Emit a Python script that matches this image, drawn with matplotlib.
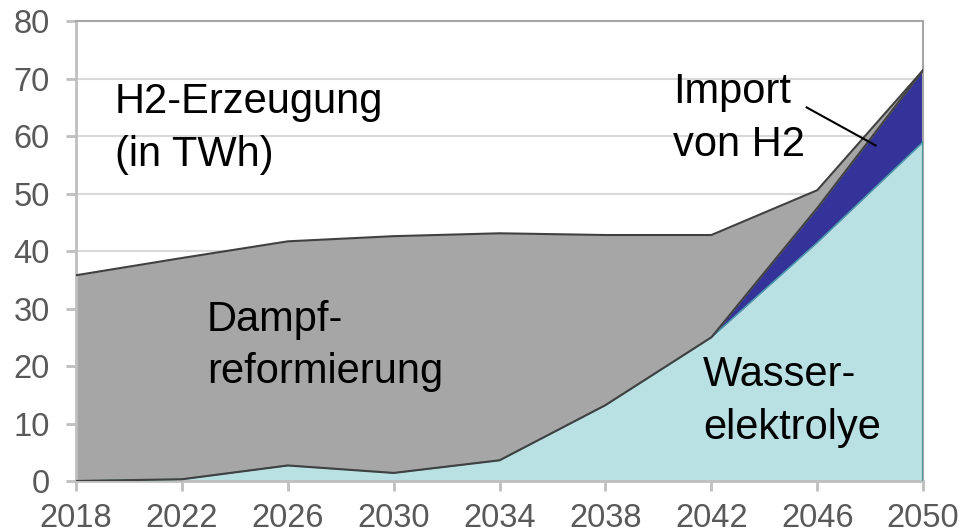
import numpy as np
import matplotlib.pyplot as plt

plt.rcParams['font.family'] = ['Liberation Sans', 'DejaVu Sans']

# H2 production by source, TWh
jahre = [2018, 2022, 2026, 2030, 2034, 2038, 2042, 2046, 2050]
elektrolyse = [0.0, 0.3, 2.7, 1.4, 3.6, 13.2, 25.0, 41.5, 59.0]
import_h2 = [0.0, 0.0, 0.0, 0.0, 0.0, 0.0, 0.0, 6.0, 12.5]
dampfreform = [35.8, 38.5, 39.0, 41.2, 39.5, 29.6, 17.8, 3.1, 0.0]

yticks = list(range(0, 81, 10))

jahre_a = np.array(jahre)
e = np.array(elektrolyse)
i = e + np.array(import_h2)
d = i + np.array(dampfreform)

fig = plt.figure(figsize=(9.8, 5.31), dpi=100)
ax = fig.add_axes([0.0776, 0.0942, 0.8644, 0.8658])

ax.fill_between(jahre_a, 0, e, color='#B9E0E3', lw=0, zorder=2)
ax.fill_between(jahre_a, e, i, color='#333399', lw=0, zorder=2)
ax.fill_between(jahre_a, i, d, color='#A6A6A6', lw=0, zorder=2)
ax.plot(jahre_a, e, color='#4BA5AC', lw=1.0, zorder=3)
ax.plot(jahre_a, i, color='#404040', lw=1.5, zorder=3)
ax.plot(jahre_a, d, color='#404040', lw=1.5, zorder=3)
ax.plot([jahre[-1], jahre[-1]], [0, e[-1]], color='#4B9A9E', lw=1.5, zorder=3)

ax.set_xlim(jahre[0], jahre[-1])
ax.set_ylim(0, 80)
ax.set_xticks(jahre)
ax.set_yticks(yticks)
ax.yaxis.grid(True, color='#D9D9D9', lw=1.5, zorder=0)
ax.set_axisbelow(True)

for s in ['left', 'bottom']:
    ax.spines[s].set_color('#BFBFBF')
    ax.spines[s].set_linewidth(2)
for s in ['top', 'right']:
    ax.spines[s].set_color('#A6A6A6')
    ax.spines[s].set_linewidth(1.5)
ax.tick_params(axis='both', colors='#BFBFBF', width=2, length=7,
               labelcolor='#595959', labelsize=23.5)
ax.tick_params(axis='y', pad=12)
ax.tick_params(axis='x', pad=9)

fs = 30
ax.text(2019.47, 69.4, 'H2-Erzeugung\n(in TWh)', fontsize=fs, va='top',
        ha='left', linespacing=1.4, color='black', zorder=5)
ax.text(2022.95, 31.5, 'Dampf-\nreformierung', fontsize=fs, va='top',
        ha='left', linespacing=1.4, color='black', zorder=5)
ax.text(2041.69, 21.9, 'Wasser-\nelektrolye', fontsize=fs, va='top',
        ha='left', linespacing=1.4, color='black', zorder=5)
ax.text(2040.55, 71.1, 'Import\nvon H2', fontsize=fs, va='top',
        ha='left', linespacing=1.4, color='black', zorder=5)
ax.plot([2045.6, 2048.2], [65.0, 58.4], color='black', lw=1.5, zorder=5)

fig.savefig('out.png', dpi=100)
